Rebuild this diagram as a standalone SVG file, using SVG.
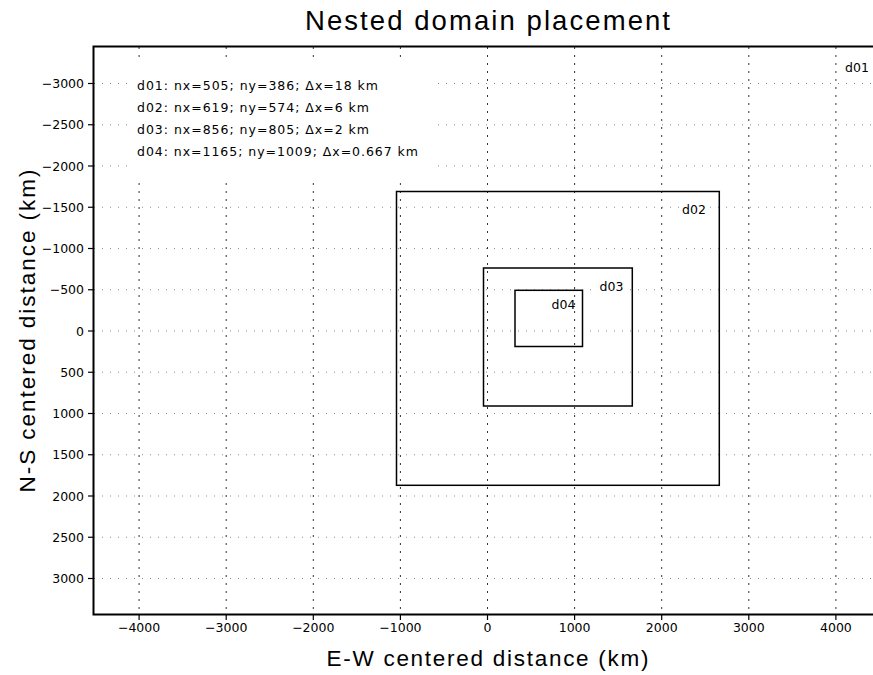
<svg xmlns="http://www.w3.org/2000/svg" width="873" height="675" viewBox="0 0 873 675">
<style>
text{font-family:"DejaVu Sans","Liberation Sans",sans-serif;fill:#000}
.big{font-family:"Liberation Sans","DejaVu Sans",sans-serif;text-anchor:middle}
.t{font-size:12.5px}
.tx{font-size:12.5px;text-anchor:middle}
.ty{font-size:12.5px;text-anchor:end}
.gh{stroke:#8a8a8a;stroke-width:1;stroke-dasharray:1 7;fill:none}
.gv{stroke:#333;stroke-width:1;stroke-dasharray:2 6;fill:none}
.box{fill:none;stroke:#000;stroke-width:1.5}
.bg{fill:#fff;stroke:none}
.tick{stroke:#000;stroke-width:1.2}
</style>
<rect width="873" height="675" fill="#fff"/>
<g id="grid">
<g class="gv">
<line x1="139.1" y1="47" x2="139.1" y2="614"/>
<line x1="226.2" y1="47" x2="226.2" y2="614"/>
<line x1="313.3" y1="47" x2="313.3" y2="614"/>
<line x1="400.4" y1="47" x2="400.4" y2="614"/>
<line x1="487.5" y1="47" x2="487.5" y2="614"/>
<line x1="574.6" y1="47" x2="574.6" y2="614"/>
<line x1="661.7" y1="47" x2="661.7" y2="614"/>
<line x1="748.8" y1="47" x2="748.8" y2="614"/>
<line x1="835.9" y1="47" x2="835.9" y2="614"/>
</g>
<g class="gh">
<line x1="94" y1="83.5" x2="873" y2="83.5"/>
<line x1="94" y1="124.75" x2="873" y2="124.75"/>
<line x1="94" y1="166" x2="873" y2="166"/>
<line x1="94" y1="207.25" x2="873" y2="207.25"/>
<line x1="94" y1="248.5" x2="873" y2="248.5"/>
<line x1="94" y1="289.75" x2="873" y2="289.75"/>
<line x1="94" y1="331" x2="873" y2="331"/>
<line x1="94" y1="372.25" x2="873" y2="372.25"/>
<line x1="94" y1="413.5" x2="873" y2="413.5"/>
<line x1="94" y1="454.75" x2="873" y2="454.75"/>
<line x1="94" y1="496" x2="873" y2="496"/>
<line x1="94" y1="537.25" x2="873" y2="537.25"/>
<line x1="94" y1="578.5" x2="873" y2="578.5"/>
</g>
</g>
<g id="legend">
<rect class="bg" x="127" y="62" width="306" height="116"/>
<text class="t" x="137" y="90" textLength="241" lengthAdjust="spacing">d01: nx=505; ny=386; Δx=18 km</text>
<text class="t" x="137" y="112" textLength="232" lengthAdjust="spacing">d02: nx=619; ny=574; Δx=6 km</text>
<text class="t" x="137" y="134" textLength="232" lengthAdjust="spacing">d03: nx=856; ny=805; Δx=2 km</text>
<text class="t" x="137" y="156" textLength="281" lengthAdjust="spacing">d04: nx=1165; ny=1009; Δx=0.667 km</text>
</g>
<g id="d01">
<rect class="bg" x="842" y="60" width="30" height="14"/>
<text class="t" x="845" y="72">d01</text>
</g>
<g id="d02">
<rect class="box" x="396.5" y="191.5" width="322.8" height="293.8"/>
<rect class="bg" x="679" y="201" width="29" height="15"/>
<text class="t" x="682" y="213.5">d02</text>
</g>
<g id="d03">
<rect class="box" x="483.5" y="268" width="148.8" height="138"/>
<rect class="bg" x="596" y="279" width="32" height="15"/>
<text class="t" x="599.5" y="291">d03</text>
</g>
<g id="d04">
<rect class="box" x="515" y="290.3" width="67.5" height="56.2"/>
<text class="t" x="551.5" y="308.5">d04</text>
</g>
<g id="axes">
<polyline points="873,46.5 93.5,46.5 93.5,614.5 873,614.5" fill="none" stroke="#000" stroke-width="2"/>
<g class="tick">
<line x1="88" y1="83.5" x2="93" y2="83.5"/>
<line x1="88" y1="124.75" x2="93" y2="124.75"/>
<line x1="88" y1="166" x2="93" y2="166"/>
<line x1="88" y1="207.25" x2="93" y2="207.25"/>
<line x1="88" y1="248.5" x2="93" y2="248.5"/>
<line x1="88" y1="289.75" x2="93" y2="289.75"/>
<line x1="88" y1="331" x2="93" y2="331"/>
<line x1="88" y1="372.25" x2="93" y2="372.25"/>
<line x1="88" y1="413.5" x2="93" y2="413.5"/>
<line x1="88" y1="454.75" x2="93" y2="454.75"/>
<line x1="88" y1="496" x2="93" y2="496"/>
<line x1="88" y1="537.25" x2="93" y2="537.25"/>
<line x1="88" y1="578.5" x2="93" y2="578.5"/>
<line x1="139.1" y1="615" x2="139.1" y2="620"/>
<line x1="226.2" y1="615" x2="226.2" y2="620"/>
<line x1="313.3" y1="615" x2="313.3" y2="620"/>
<line x1="400.4" y1="615" x2="400.4" y2="620"/>
<line x1="487.5" y1="615" x2="487.5" y2="620"/>
<line x1="574.6" y1="615" x2="574.6" y2="620"/>
<line x1="661.7" y1="615" x2="661.7" y2="620"/>
<line x1="748.8" y1="615" x2="748.8" y2="620"/>
<line x1="835.9" y1="615" x2="835.9" y2="620"/>
</g>
<text class="ty" x="84" y="88">−3000</text>
<text class="ty" x="84" y="129.25">−2500</text>
<text class="ty" x="84" y="170.5">−2000</text>
<text class="ty" x="84" y="211.75">−1500</text>
<text class="ty" x="84" y="253">−1000</text>
<text class="ty" x="84" y="294.25">−500</text>
<text class="ty" x="84" y="335.5">0</text>
<text class="ty" x="84" y="376.75">500</text>
<text class="ty" x="84" y="418">1000</text>
<text class="ty" x="84" y="459.25">1500</text>
<text class="ty" x="84" y="500.5">2000</text>
<text class="ty" x="84" y="541.75">2500</text>
<text class="ty" x="84" y="583">3000</text>
<text class="tx" x="139.1" y="632">−4000</text>
<text class="tx" x="226.2" y="632">−3000</text>
<text class="tx" x="313.3" y="632">−2000</text>
<text class="tx" x="400.4" y="632">−1000</text>
<text class="tx" x="487.5" y="632">0</text>
<text class="tx" x="574.6" y="632">1000</text>
<text class="tx" x="661.7" y="632">2000</text>
<text class="tx" x="748.8" y="632">3000</text>
<text class="tx" x="835.9" y="632">4000</text>
<text class="big" x="487.5" y="666" font-size="22.5" textLength="322" lengthAdjust="spacing">E-W centered distance (km)</text>
<text class="big" transform="translate(35,331) rotate(-90)" x="0" y="0" font-size="22.5" textLength="323" lengthAdjust="spacing">N-S centered distance (km)</text>
</g>
<text class="big" x="487.5" y="30" font-size="27.5" textLength="365" lengthAdjust="spacing">Nested domain placement</text>
</svg>
